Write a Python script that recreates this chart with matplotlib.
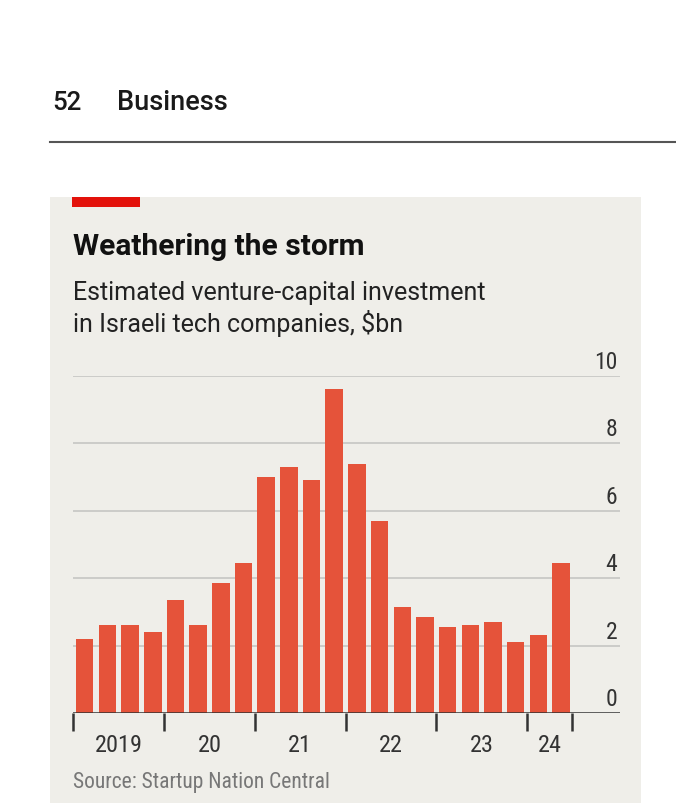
import matplotlib
matplotlib.use("Agg")
import matplotlib.pyplot as plt
from matplotlib.patches import Rectangle
from matplotlib.lines import Line2D

# ---- data ----
quarters = ["2019Q1", "2019Q2", "2019Q3", "2019Q4",
            "2020Q1", "2020Q2", "2020Q3", "2020Q4",
            "2021Q1", "2021Q2", "2021Q3", "2021Q4",
            "2022Q1", "2022Q2", "2022Q3", "2022Q4",
            "2023Q1", "2023Q2", "2023Q3", "2023Q4",
            "2024Q1", "2024Q2"]
investment = [2.2, 2.6, 2.6, 2.4,
              3.35, 2.6, 3.85, 4.45,
              7.0, 7.3, 6.9, 9.6,
              7.4, 5.7, 3.15, 2.85,
              2.55, 2.6, 2.7, 2.1,
              2.3, 4.45]
year_labels = ["2019", "20", "21", "22", "23", "24"]
y_ticks = [0, 2, 4, 6, 8, 10]

W, H = 676, 812
BG = "#EFEEE9"
BAR = "#E5533A"
RED = "#E3120B"

NARROW = ["Roboto Condensed", "Liberation Sans Narrow", "DejaVu Sans"]
NARROW_KW = dict(family=NARROW, fontstretch="condensed")

fig = plt.figure(figsize=(W / 100, H / 100), dpi=100)
fig.patch.set_facecolor("white")

def fx(x):
    return x / W

def fy(y):
    return 1 - y / H

# page header
fig.text(fx(52), fy(110), "52", fontsize=18.5, fontweight="medium",
         family=["Roboto"], color="#1a1a1a", va="baseline", ha="left")
fig.text(fx(117), fy(110), "Business", fontsize=19.5, fontweight="medium",
         family=["Roboto"], color="#1a1a1a", va="baseline", ha="left")
fig.add_artist(Line2D([fx(50), fx(676)], [fy(143), fy(143)],
                      transform=fig.transFigure, color="#555555", lw=1.5))

# panel
fig.add_artist(Rectangle((fx(50), fy(804)), fx(641) - fx(50), fy(198) - fy(804),
                         transform=fig.transFigure, facecolor=BG,
                         edgecolor="none", zorder=0))
fig.add_artist(Rectangle((fx(72), fy(208)), fx(140) - fx(72), fy(198) - fy(208),
                         transform=fig.transFigure, facecolor=RED,
                         edgecolor="none", zorder=1))

fig.text(fx(73), fy(255), "Weathering the storm", fontsize=21.5,
         fontweight="bold", family=["Roboto"],
         color="#111111", va="baseline", ha="left")
fig.text(fx(73), fy(300), "Estimated venture-capital investment", fontsize=18,
         family=["Roboto"], color="#222222", va="baseline", ha="left")
fig.text(fx(73), fy(332), "in Israeli tech companies, $bn", fontsize=18,
         family=["Roboto"], color="#222222", va="baseline", ha="left")
fig.text(fx(73), fy(788), "Source: Startup Nation Central", fontsize=15.5,
         color="#777777", va="baseline", ha="left", **NARROW_KW)

# axes
ax_left, ax_right = 73.4, 619.5
ax_bottom, ax_top = 714, 377
ax = fig.add_axes([fx(ax_left), fy(ax_bottom), fx(ax_right) - fx(ax_left),
                   fy(ax_top) - fy(ax_bottom)])
ax.set_facecolor("none")
x = list(range(len(investment)))
pitch = 22.68
ax.set_xlim(-0.5, -0.5 + (ax_right - ax_left) / pitch)
ax.set_ylim(0, 10)

for v in y_ticks[1:]:
    ax.axhline(v, color="#C9C9C6", lw=1.3, zorder=1)
ax.bar(x, investment, width=0.77, color=BAR, zorder=2)
ax.axhline(0, color="#333333", lw=1.8, zorder=3)

for s in ax.spines.values():
    s.set_visible(False)
ax.set_yticks([])

# year boundary ticks
bounds = [-0.5 + 4 * i for i in range(6)] + [len(investment) - 0.5]
ax.set_xticks(bounds)
ax.set_xticklabels([])
ax.tick_params(axis="x", length=13, width=1.8, color="#333333", direction="out")

# year labels centred in each year's span
for i, lab in enumerate(year_labels):
    lo = bounds[i]
    hi = bounds[i + 1]
    ax.annotate(lab, xy=((lo + hi) / 2, 0), xycoords="data",
                xytext=(0, -38.5), textcoords="offset pixels",
                ha="center", va="baseline", fontsize=17.5,
                color="#333333", annotation_clip=False, **NARROW_KW)

for v in y_ticks:
    ax.annotate(str(v), xy=(1, v), xycoords=("axes fraction", "data"),
                xytext=(-2, 8), textcoords="offset pixels",
                ha="right", va="baseline", fontsize=17,
                color="#333333", annotation_clip=False, **NARROW_KW)

fig.savefig("out.png", dpi=100, facecolor="white")
